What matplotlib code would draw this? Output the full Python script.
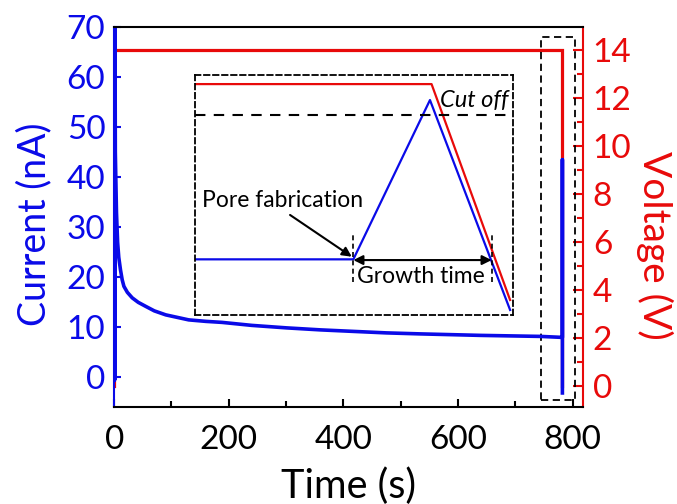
import matplotlib
matplotlib.use("Agg")
import matplotlib.pyplot as plt
from matplotlib.patches import Rectangle
from matplotlib.ticker import MultipleLocator

plt.rcParams['font.family'] = ['Lato', 'DejaVu Sans']

BLUE = '#0a0ae8'
RED = '#e80a0a'

# Ionic current (nA) recorded during the breakdown run
time_current = [0, 0.4, 0.9, 1.4, 2, 4, 6, 8, 11, 14, 17, 23, 31.5, 42, 55, 70,
                90, 110, 130, 160, 188, 240, 301, 360, 417, 475, 534, 640,
                743, 782, 782, 782]
current = [-0.5, 72, -0.5, 72, 45, 33, 27, 24, 21.5, 19.5, 18.2, 17.0, 15.9,
           15.0, 14.2, 13.3, 12.5, 12.0, 11.5, 11.2, 11.0, 10.4, 9.9, 9.5, 9.2,
           8.9, 8.7, 8.4, 8.2, 8.0, 43.5, -3.1]

# Applied voltage (V)
time_voltage = [0, 0, 782, 782]
voltage = [0, 14, 14, 0]

# Highlighted cut-off window (time range, current range)
window_t = (744, 804)
window_i = (-4.5, 68)

# Schematic of the cut-off event (normalised inset units)
sketch_v_x = [0.0, 0.744, 0.991]
sketch_v_y = [0.9625, 0.9625, 0.0625]
sketch_i_x = [0.0, 0.498, 0.739, 0.991]
sketch_i_y = [0.232, 0.232, 0.896, 0.021]
cutoff_level = 0.833
growth_start = 0.498
growth_end = 0.933

fig = plt.figure(figsize=(6.77, 5.04), dpi=100)
ax = fig.add_axes([0.1678, 0.1925, 0.6934, 0.7539])
ax2 = ax.twinx()
ax.set_zorder(ax2.get_zorder() + 1)
ax.patch.set_visible(False)

ax2.plot(time_voltage, voltage, color=RED, lw=2.3, solid_joinstyle='miter')
ax.plot(time_current, current, color=BLUE, lw=2.6, solid_joinstyle='round')

ax.set_xlim(-1, 818)
ax.set_ylim(-5.9, 70)
ax2.set_ylim(-0.88, 14.95)

ax.xaxis.set_major_locator(MultipleLocator(200))
ax.xaxis.set_minor_locator(MultipleLocator(100))
ax.yaxis.set_major_locator(MultipleLocator(10))
ax2.yaxis.set_major_locator(MultipleLocator(2))
ax2.yaxis.set_minor_locator(MultipleLocator(1))

for s in ('top', 'bottom'):
    ax.spines[s].set_linewidth(1.5)
    ax.spines[s].set_color('black')
ax.spines['left'].set_color(BLUE)
ax.spines['left'].set_linewidth(1.5)
ax.spines['right'].set_visible(False)
for s in ('top', 'bottom', 'left'):
    ax2.spines[s].set_visible(False)
ax2.spines['right'].set_color(RED)
ax2.spines['right'].set_linewidth(1.5)

TICK_FS = 24
ax.tick_params(axis='x', which='major', direction='in', length=6, width=1.5,
               labelsize=TICK_FS, pad=13, colors='black', top=False)
ax.tick_params(axis='x', which='minor', direction='in', length=4, width=1.5, top=False)
ax.tick_params(axis='y', which='major', direction='in', length=5, width=1.5,
               labelsize=TICK_FS, pad=6, colors=BLUE)
ax2.tick_params(axis='y', which='major', direction='in', length=7, width=1.5,
                labelsize=TICK_FS, pad=7, colors=RED)
ax2.tick_params(axis='y', which='minor', direction='in', length=4, width=1.5, colors=RED)

ax.set_xlabel('Time (s)', fontsize=28.5, va='top')
ax.set_ylabel('Current (nA)', fontsize=27, color=BLUE)
ax2.set_ylabel('Voltage (V)', fontsize=28, color=RED, rotation=270, va='bottom')
ax.xaxis.set_label_coords(0.5, -0.16)
ax.yaxis.set_label_coords(-0.131, 0.48)
ax2.yaxis.set_label_coords(1.112, 0.426)

ax.add_patch(Rectangle((window_t[0], window_i[0]), window_t[1] - window_t[0],
                       window_i[1] - window_i[0], fill=False, ec='black',
                       lw=1.3, ls=(0, (4, 2.5)), clip_on=False))

# Inset schematic
ins = fig.add_axes([0.288, 0.375, 0.4697, 0.476])
ins.set_xlim(0, 1)
ins.set_ylim(0, 1)
ins.set_xticks([])
ins.set_yticks([])
ins.patch.set_visible(False)
for sp in ins.spines.values():
    sp.set_linestyle((0, (3, 2)))
    sp.set_linewidth(1.3)

INSET_FS = 16.5
ins.plot(sketch_v_x, sketch_v_y, color=RED, lw=1.6)
ins.plot(sketch_i_x, sketch_i_y, color=BLUE, lw=1.6)
ins.axhline(cutoff_level, color='black', lw=1.5, ls=(0, (5, 4)))
ins.text(0.985, 0.895, 'Cut off', style='italic', fontsize=INSET_FS + 0.5,
         ha='right', va='center')
ins.text(0.021, 0.479, 'Pore fabrication', fontsize=INSET_FS, ha='left', va='center')
ins.annotate('', xy=(0.493, 0.243), xytext=(0.299, 0.417),
             arrowprops=dict(arrowstyle='-|>', color='black', lw=1.5,
                             shrinkA=0, shrinkB=0, mutation_scale=14))
ins.annotate('', xy=(growth_end, 0.229), xytext=(growth_start, 0.229),
             arrowprops=dict(arrowstyle='<|-|>', color='black', lw=1.5,
                             shrinkA=0, shrinkB=0, mutation_scale=14))
for gx in (growth_start, growth_end):
    ins.plot([gx, gx], [0.139, 0.342], color='black', lw=1.2, ls=(0, (3, 2)))
ins.text((growth_start + growth_end) / 2 - 0.005, 0.16, 'Growth time',
         fontsize=INSET_FS, ha='center', va='center')

fig.savefig('out.png', dpi=100)
